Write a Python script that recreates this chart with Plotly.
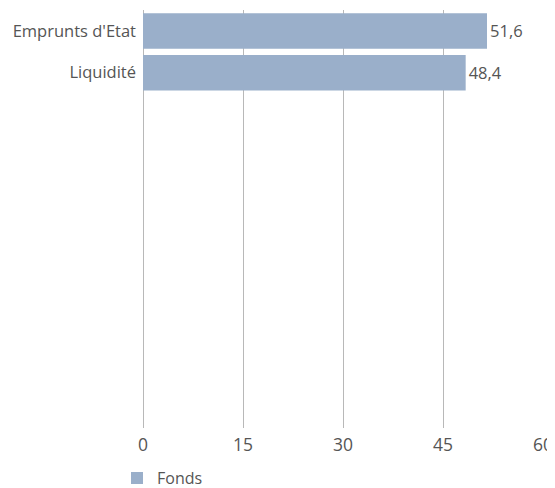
import plotly.graph_objects as go

categories = ["Emprunts d'Etat", "Liquidité"]
values = [51.6, 48.4]
series_name = "Fonds"
x_ticks = [0, 15, 30, 45, 60]
n_slots = 10

positions = list(range(len(categories)))
FONT = "Open Sans"

fig = go.Figure()
fig.add_trace(go.Bar(
    y=positions, x=values, orientation="h", name=series_name,
    marker=dict(color="#9aafca", line=dict(width=0)),
    text=[f"{v:.1f}".replace(".", ",") for v in values],
    textposition="outside", cliponaxis=False,
    textfont=dict(color="#555555", size=16.5, family=FONT),
    showlegend=True,
))
fig.update_layout(
    width=547, height=480,
    margin=dict(l=135, r=12, t=2, b=60, autoexpand=False),
    plot_bgcolor="white", paper_bgcolor="white",
    font=dict(family=FONT, color="#555555", size=16.5),
    bargap=0.15,
    xaxis=dict(range=[0, 60], tickvals=x_ticks, showgrid=True, gridcolor="#b8b8b8",
               gridwidth=1, zeroline=True, zerolinecolor="#b8b8b8", zerolinewidth=1,
               showline=False, ticks="", ticklen=0, automargin=False,
               ticklabelstandoff=4, tickfont=dict(size=17.5)),
    yaxis=dict(range=[n_slots - 0.5, -0.5], tickvals=positions, ticktext=categories,
               showgrid=False, zeroline=False, showline=False, ticks="",
               automargin=False, ticklabelstandoff=6),
    legend=dict(orientation="h", x=-0.065, xanchor="left", y=-0.12, yanchor="middle",
                font=dict(size=16), itemwidth=30),
)
fig.write_html("out.html")
